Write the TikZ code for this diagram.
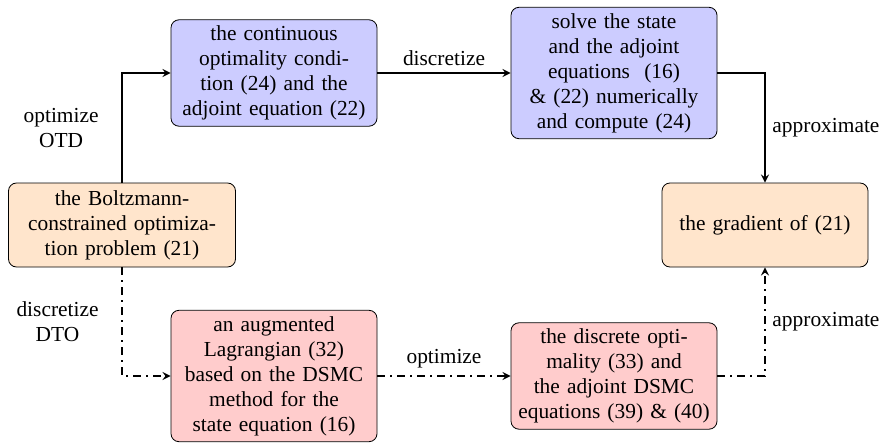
\documentclass[tikz,border=0pt]{standalone}
\usepackage{fontspec}
\setmainfont{Liberation Serif}
\usepackage{amsmath}
\usepackage{tikz}

\begin{document}
\begin{tikzpicture}[x=1pt,y=1pt,
    box_node/.style={draw,rounded corners=4pt,align=center,text width=97pt,inner sep=3pt,
        font=\fontsize{10.7pt}{12.5pt}\selectfont},
    orange_node/.style={box_node,fill=orange!20,minimum height=42pt},
    blue_node/.style={box_node,fill=blue!20},
    red_node/.style={box_node,fill=red!20},
    arrow/.style={thick,-stealth},
    dash_dot_line/.style={dash pattern=on 4pt off 2.5pt on 1pt off 2.5pt},
    label_node/.style={font=\fontsize{10.7pt}{12.5pt}\selectfont,align=center}]
    \useasboundingbox (0,0) rectangle (441.5,-222);

    \node[orange_node,text width=107.5pt] (1) at (61,-112.5) {the Boltzmann-\\constrained optimiza-\\tion problem (21)};
    \node[blue_node] (2) at (137,-36.5) {the continuous\\optimality condi-\\tion (24) and the\\adjoint equation (22)};
    \node[blue_node] (3) at (307,-36.5) {solve the state\\and the adjoint\\equations\ \ (16)\\\& (22) numerically\\and compute (24)};
    \node[orange_node] (4) at (382.5,-112.5) {the gradient of (21)};
    \node[red_node] (5) at (137,-188) {an augmented\\Lagrangian (32)\\based on the DSMC\\method for the\\state equation (16)};
    \node[red_node] (6) at (307,-188) {the discrete opti-\\mality (33) and\\the adjoint DSMC\\equations (39) \& (40)};

    \draw[arrow] (1) |- node[label_node,pos=0.25,left=8pt] {optimize\\OTD} (2);
    \draw[arrow] (2) -- node[label_node,above] {discretize} (3);
    \draw[arrow] (3) -| node[label_node,pos=0.75,right] {approximate} (4);
    %lower branch
    \draw[arrow,dash_dot_line] (1) |- node[label_node,pos=0.25,left=8pt] {discretize\\DTO} (5);
    \draw[arrow,dash_dot_line] (5) -- node[label_node,above] {optimize} (6);
    \draw[arrow,dash_dot_line] (6) -| node[label_node,pos=0.75,right] {approximate} (4);
\end{tikzpicture}
\end{document}
